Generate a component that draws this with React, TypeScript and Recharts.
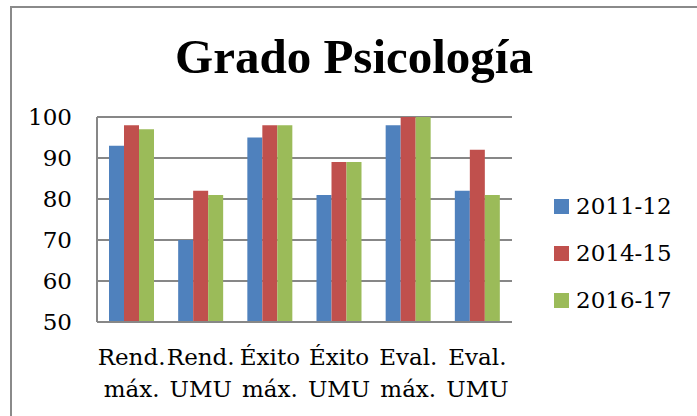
import React from 'react';
import { BarChart, Bar, XAxis, YAxis, CartesianGrid, Legend } from 'recharts';

const title = 'Grado Psicología';
const categories = ['Rend. máx.', 'Rend. UMU', 'Éxito máx.', 'Éxito UMU', 'Eval. máx.', 'Eval. UMU'];
const seriesNames = ['2011-12', '2014-15', '2016-17'];
const values2011 = [93, 70, 95, 81, 98, 82];
const values2014 = [98, 82, 98, 89, 100, 92];
const values2016 = [97, 81, 98, 89, 100, 81];
const yTicks = [50, 60, 70, 80, 90, 100];
const colors = ['#4F81BD', '#C0504D', '#9BBB59'];

const data = categories.map((c, i) => ({
  name: c,
  s0: values2011[i],
  s1: values2014[i],
  s2: values2016[i],
}));

const FONT = '"DejaVu Serif", serif';
const GRID = '#878787';

const XTick = (props: any) => {
  const { x, y, payload } = props;
  const label: string = String(payload.value);
  const idx = label.indexOf(' ');
  const a = idx >= 0 ? label.slice(0, idx) : label;
  const b = idx >= 0 ? label.slice(idx + 1) : '';
  return (
    <text x={x} y={y} textAnchor="middle" fontFamily={FONT} fontSize={23} fill="#000">
      <tspan x={x} y={y + 43}>{a}</tspan>
      <tspan x={x} y={y + 75}>{b}</tspan>
    </text>
  );
};

const renderLegend = (props: any) => {
  const { payload } = props;
  return (
    <div>
      {(payload || []).map((p: any, i: number) => (
        <div key={i} style={{ display: 'flex', alignItems: 'center', height: 47 }}>
          <span style={{ display: 'inline-block', width: 15, height: 15, background: p.color, marginRight: 7 }} />
          <span style={{ fontFamily: FONT, fontSize: 23, lineHeight: '23px', color: '#000' }}>{p.value}</span>
        </div>
      ))}
    </div>
  );
};

export default function App() {
  return (
    <div style={{ position: 'absolute', left: 0, top: 0, width: 697, height: 416, overflow: 'hidden', background: '#fff' }}>
      <div style={{ position: 'absolute', left: 10, top: 6, width: 900, height: 900, border: '2px solid #8a8a8a' }} />
      <svg width={697} height={110} style={{ position: 'absolute', left: 0, top: 0 }}>
        <text x={354} y={73} textAnchor="middle" fontFamily='"Liberation Serif", serif' fontWeight="bold" fontSize={49} fill="#000">
          {title}
        </text>
      </svg>
      <div style={{ position: 'absolute', left: 0, top: 0 }}>
        <BarChart
          width={697}
          height={416}
          data={data}
          margin={{ top: 117, right: 185, bottom: 34, left: 37 }}
          barGap={0}
          barSize={15}
        >
          <CartesianGrid vertical={false} stroke={GRID} strokeWidth={2} />
          <XAxis
            dataKey="name"
            height={60}
            axisLine={{ stroke: GRID, strokeWidth: 2 }}
            tickLine={false}
            tickSize={0}
            tickMargin={0}
            interval={0}
            tick={<XTick />}
          />
          <YAxis
            width={60}
            domain={[50, 100]}
            ticks={yTicks}
            allowDataOverflow
            axisLine={{ stroke: GRID, strokeWidth: 2 }}
            tickLine={false}
            tickSize={0}
            tickMargin={25}
            tick={{ fontFamily: FONT, fontSize: 23, fill: '#000' }}
          />
          <Legend
            layout="vertical"
            align="center"
            verticalAlign="middle"
            wrapperStyle={{ left: 554, top: 183, width: 130 }}
            content={renderLegend}
          />
          <Bar dataKey="s0" name={seriesNames[0]} fill={colors[0]} isAnimationActive={false} />
          <Bar dataKey="s1" name={seriesNames[1]} fill={colors[1]} isAnimationActive={false} />
          <Bar dataKey="s2" name={seriesNames[2]} fill={colors[2]} isAnimationActive={false} />
        </BarChart>
      </div>
    </div>
  );
}
